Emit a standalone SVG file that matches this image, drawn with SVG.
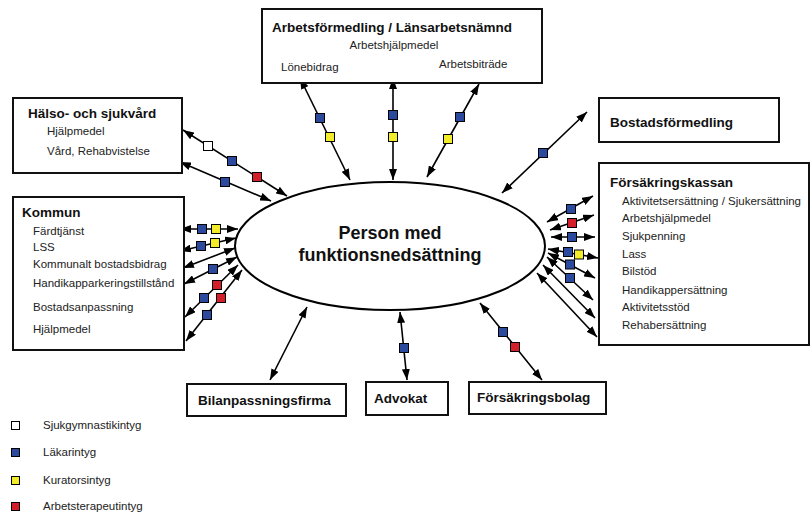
<svg xmlns="http://www.w3.org/2000/svg" width="811" height="515" viewBox="0 0 811 515">
<defs>
<marker id="ah" markerUnits="userSpaceOnUse" markerWidth="11" markerHeight="8" refX="11" refY="4" orient="auto-start-reverse">
<path d="M0,0 L11,4 L0,8 z" fill="#000"/>
</marker>
<style>
.box{fill:#fff;stroke:#111;stroke-width:2}
.t{font-family:"Liberation Sans",Arial,sans-serif;font-weight:bold;font-size:13.5px;fill:#111}
.i{font-family:"Liberation Sans",Arial,sans-serif;font-size:11.5px;fill:#222}
.c{stroke:#000;stroke-width:1.6;fill:none;marker-start:url(#ah);marker-end:url(#ah)}
.sq{stroke:#000;stroke-width:1}
.w{fill:#fff}.b{fill:#2b4a9e}.y{fill:#f2ec2a}.r{fill:#d21f2a}
</style>
</defs>
<rect width="811" height="515" fill="#fff"/>

<g id="connectors">
<line class="c" x1="300" y1="78" x2="350" y2="180"/>
<line class="c" x1="393" y1="78" x2="393" y2="180"/>
<line class="c" x1="479" y1="84" x2="427" y2="177"/>
<line class="c" x1="587" y1="112" x2="502" y2="193"/>
<line class="c" x1="183" y1="130" x2="287" y2="196"/>
<line class="c" x1="180" y1="162" x2="271" y2="201"/>
<line class="c" x1="180" y1="229" x2="238" y2="229"/>
<line class="c" x1="180" y1="251" x2="236" y2="238"/>
<line class="c" x1="183" y1="268" x2="235" y2="248"/>
<line class="c" x1="184" y1="284" x2="237" y2="257"/>
<line class="c" x1="185" y1="317" x2="238" y2="265"/>
<line class="c" x1="186" y1="341" x2="242" y2="270"/>
<line class="c" x1="547" y1="222" x2="593" y2="196"/>
<line class="c" x1="550" y1="230" x2="594" y2="215"/>
<line class="c" x1="551" y1="237" x2="595" y2="237"/>
<line class="c" x1="548" y1="249" x2="598" y2="258"/>
<line class="c" x1="548" y1="253" x2="595" y2="278"/>
<line class="c" x1="547" y1="257" x2="593" y2="300"/>
<line class="c" x1="543" y1="265" x2="595" y2="318"/>
<line class="c" x1="537" y1="273" x2="597" y2="337"/>
<line class="c" x1="270" y1="380" x2="307" y2="307"/>
<line class="c" x1="400" y1="312" x2="407" y2="380"/>
<line class="c" x1="480" y1="303" x2="542" y2="380"/>
</g>

<g id="badges">
<rect class="sq b" x="315.5" y="113.5" width="9" height="9"/>
<rect class="sq y" x="325.5" y="132.5" width="9" height="9"/>
<rect class="sq b" x="388.5" y="110.5" width="9" height="9"/>
<rect class="sq y" x="388.5" y="132.5" width="9" height="9"/>
<rect class="sq b" x="455.5" y="112.5" width="9" height="9"/>
<rect class="sq y" x="443.5" y="134.5" width="9" height="9"/>
<rect class="sq b" x="538.5" y="148.5" width="9" height="9"/>
<rect class="sq w" x="203.5" y="141.5" width="9" height="9"/>
<rect class="sq b" x="227.5" y="156.5" width="9" height="9"/>
<rect class="sq r" x="252.5" y="172.5" width="9" height="9"/>
<rect class="sq b" x="220.5" y="177.5" width="9" height="9"/>
<rect class="sq b" x="197.5" y="224.5" width="9" height="9"/>
<rect class="sq y" x="211.5" y="224.5" width="9" height="9"/>
<rect class="sq b" x="196.5" y="241.5" width="9" height="9"/>
<rect class="sq y" x="210.5" y="238.5" width="9" height="9"/>
<rect class="sq b" x="208.5" y="264.5" width="9" height="9"/>
<rect class="sq r" x="212.5" y="280.5" width="9" height="9"/>
<rect class="sq b" x="199.5" y="293.5" width="9" height="9"/>
<rect class="sq r" x="216.5" y="293.5" width="9" height="9"/>
<rect class="sq b" x="202.5" y="310.5" width="9" height="9"/>
<rect class="sq b" x="566.5" y="204.5" width="9" height="9"/>
<rect class="sq r" x="567.5" y="218.5" width="9" height="9"/>
<rect class="sq b" x="567.5" y="232.5" width="9" height="9"/>
<rect class="sq b" x="563.5" y="247.5" width="9" height="9"/>
<rect class="sq y" x="574.5" y="250" width="9" height="9"/>
<rect class="sq b" x="565.5" y="260" width="9" height="9"/>
<rect class="sq b" x="565.5" y="273.5" width="9" height="9"/>
<rect class="sq b" x="399.5" y="343.5" width="9" height="9"/>
<rect class="sq b" x="498.5" y="327.5" width="9" height="9"/>
<rect class="sq r" x="510.5" y="342.5" width="9" height="9"/>
</g>

<g id="person">
<ellipse cx="390" cy="246" rx="155" ry="64" fill="#fff" stroke="#000" stroke-width="2"/>
<text x="390" y="239" text-anchor="middle" font-family="Liberation Sans, Arial, sans-serif" font-weight="bold" font-size="18" fill="#111">Person med</text>
<text x="390" y="261" text-anchor="middle" font-family="Liberation Sans, Arial, sans-serif" font-weight="bold" font-size="18" fill="#111">funktionsnedsättning</text>
</g>

<g id="arbetsformedling">
<rect class="box" x="262" y="9" width="280" height="74"/>
<text class="t" x="272" y="32">Arbetsförmedling / Länsarbetsnämnd</text>
<text class="i" x="394" y="49" text-anchor="middle">Arbetshjälpmedel</text>
<text class="i" x="281" y="71">Lönebidrag</text>
<text class="i" x="439" y="68">Arbetsbiträde</text>
</g>

<g id="halso">
<rect class="box" x="13" y="98" width="169" height="75"/>
<text class="t" x="28" y="118">Hälso- och sjukvård</text>
<text class="i" x="47" y="135">Hjälpmedel</text>
<text class="i" x="47" y="155">Vård, Rehabvistelse</text>
</g>

<g id="kommun">
<rect class="box" x="13" y="197" width="171" height="153"/>
<text class="t" x="22" y="217">Kommun</text>
<text class="i" x="33" y="235">Färdtjänst</text>
<text class="i" x="33" y="251">LSS</text>
<text class="i" x="33" y="268">Kommunalt bostadsbidrag</text>
<text class="i" x="33" y="287">Handikapparkeringstillstånd</text>
<text class="i" x="33" y="311">Bostadsanpassning</text>
<text class="i" x="33" y="333">Hjälpmedel</text>
</g>

<g id="bostadsformedling">
<rect class="box" x="599" y="98" width="180" height="44"/>
<text class="t" x="610" y="127">Bostadsförmedling</text>
</g>

<g id="forsakringskassan">
<rect class="box" x="599" y="163" width="210" height="182"/>
<text class="t" x="610" y="187">Försäkringskassan</text>
<text class="i" x="622" y="205">Aktivitetsersättning / Sjukersättning</text>
<text class="i" x="622" y="222">Arbetshjälpmedel</text>
<text class="i" x="622" y="240">Sjukpenning</text>
<text class="i" x="622" y="258">Lass</text>
<text class="i" x="622" y="275">Bilstöd</text>
<text class="i" x="622" y="294">Handikappersättning</text>
<text class="i" x="622" y="311">Aktivitetsstöd</text>
<text class="i" x="622" y="329">Rehabersättning</text>
</g>

<g id="bilanpassningsfirma">
<rect class="box" x="187" y="384" width="159" height="32"/>
<text class="t" x="198" y="405">Bilanpassningsfirma</text>
</g>

<g id="advokat">
<rect class="box" x="366" y="382" width="82" height="33"/>
<text class="t" x="374" y="403">Advokat</text>
</g>

<g id="forsakringsbolag">
<rect class="box" x="469" y="382" width="137" height="32"/>
<text class="t" x="477" y="402">Försäkringsbolag</text>
</g>

<g id="legend">
<rect class="sq w" x="11.5" y="421.5" width="8" height="8"/>
<rect class="sq b" x="11.5" y="448.5" width="8" height="8"/>
<rect class="sq y" x="11.5" y="476.5" width="8" height="8"/>
<rect class="sq r" x="11.5" y="502.5" width="8" height="8"/>
<text class="i" x="43" y="429">Sjukgymnastikintyg</text>
<text class="i" x="43" y="456">Läkarintyg</text>
<text class="i" x="43" y="484">Kuratorsintyg</text>
<text class="i" x="43" y="510">Arbetsterapeutintyg</text>
</g>
</svg>
